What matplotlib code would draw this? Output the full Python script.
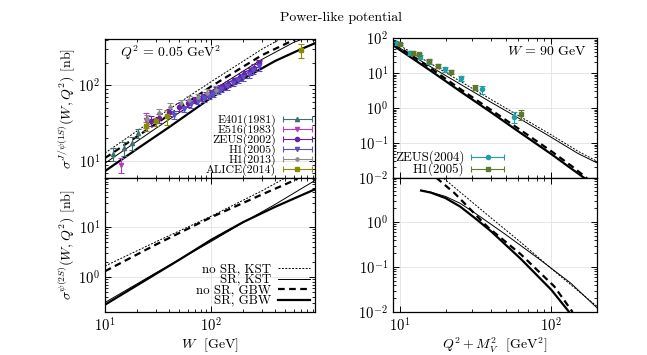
"""Power-like potential: J/psi(1S) and psi(2S) cross sections vs W and Q^2+M_V^2."""

import matplotlib
matplotlib.use("Agg")
import matplotlib.pyplot as plt
import numpy as np
from matplotlib.container import ErrorbarContainer
from matplotlib.legend_handler import HandlerErrorbar

plt.rcParams["font.family"] = "serif"
plt.rcParams["font.serif"] = ["cmr10"]
plt.rcParams["mathtext.fontset"] = "cm"
plt.rcParams["axes.formatter.use_mathtext"] = True
plt.rcParams["axes.unicode_minus"] = False

# ---------------- top left: J/psi(1S) vs W, Q^2 = 0.05 GeV^2 ----------------
w_thick_1s = [10, 20, 40, 100, 200, 400, 700, 950]
s_thick_1s = [7.4, 14.5, 28, 69, 122, 210, 300, 360]
w_thin_1s = [10, 30, 100, 300, 600, 800]
s_thin_1s = [9.4, 27, 84, 220, 370, 430]
w_dash_1s = [10, 30, 100, 300, 650]
s_dash_1s = [11, 31, 97, 250, 420]
w_dot_1s = [10, 30, 100, 300, 464]
s_dot_1s = [12.8, 37, 112, 300, 420]

e401_w = [12.0, 15.2, 17.9, 20.5]
e401_s = [12.6, 14.7, 17.6, 23.5]
e401_e = [2.5, 3.0, 3.5, 3.0]
e516_w = [14.0, 24.5]
e516_s = [9.0, 35]
e516_e = [2.0, 8.0]
zeus02_w = [27, 32, 40, 50, 60, 70, 80, 90, 100, 110, 120, 130, 145, 165, 185, 205, 230, 255, 285]
zeus02_s = [34, 37, 44, 52, 58, 64, 69, 74, 80, 86, 91, 96, 104, 116, 128, 140, 155, 172, 195]
zeus02_e = [5, 5, 5, 6, 6, 6, 7, 7, 8, 8, 9, 9, 10, 11, 12, 14, 16, 18, 22]
h1_05_w = [45, 55, 65, 75, 85, 95, 105, 115, 125, 140, 160, 180, 200, 225, 250, 285]
h1_05_s = [41, 49, 56, 62, 68, 73, 78, 84, 90, 98, 108, 118, 128, 143, 158, 182]
h1_05_e = [5, 5, 6, 6, 7, 7, 8, 8, 9, 10, 11, 12, 14, 16, 18, 25]
h1_13_w = [25, 32, 41, 52, 62, 75, 92, 110]
h1_13_s = [36, 43, 52, 58, 64, 70, 80, 88]
h1_13_e = [5, 6, 7, 7, 8, 8, 9, 10]
alice_w = [24.1, 30.0, 38.6, 706]
alice_s = [29, 33.5, 39, 290]
alice_e = [4, 4, 9, 58]

# ---------------- bottom left: psi(2S) vs W ----------------
w_thick_2s = [10, 20, 50, 100, 200, 400, 950]
s_thick_2s = [0.28, 0.68, 2.2, 5.5, 12.4, 25, 56]
w_thin_2s = [10, 30, 100, 200, 400, 950]
s_thin_2s = [0.31, 1.2, 5.1, 12.2, 28, 84]
w_dash_2s = [10, 30, 100, 300, 650]
s_dash_2s = [1.3, 4.4, 15.5, 44, 90]
w_dot_2s = [10, 30, 100, 300, 480]
s_dot_2s = [1.65, 5.0, 16.3, 52, 90]

# ---------------- top right: J/psi(1S) vs Q^2+M_V^2, W = 90 GeV ----------------
x_thick_q1 = [9.2, 16, 25, 40, 63, 100, 130, 166]
s_thick_q1 = [58, 11.5, 3.0, 0.75, 0.19, 0.048, 0.021, 0.0098]
x_thin_q1 = [9.2, 16, 25, 40, 63, 100, 150, 200]
s_thin_q1 = [64, 15, 4.8, 1.45, 0.47, 0.145, 0.05, 0.027]
x_dash_q1 = [9.2, 16, 25, 40, 63, 100, 140, 172]
s_dash_q1 = [68, 13.5, 3.5, 0.88, 0.23, 0.058, 0.02, 0.0098]
x_dot_q1 = [9.2, 16, 25, 40, 63, 100, 150, 200]
s_dot_q1 = [75, 18.5, 5.8, 1.75, 0.55, 0.17, 0.058, 0.03]

zeus04_x = [9.6, 11.6, 13.5, 15.6, 19.8, 25.5, 34.6, 56.6]
zeus04_s = [71, 36.6, 29, 21, 12.7, 7.1, 3.4, 0.565]
zeus04_e = [6, 5, 4, 3, 2.0, 1.2, 0.9, 0.2]
h1q_x = [10.0, 12.2, 13.4, 15.6, 17.9, 21.9, 31.5, 63.4]
h1q_s = [68, 38, 34, 21.5, 15.8, 10.9, 3.8, 0.66]
h1q_e = [6, 5, 4, 3, 2.0, 1.5, 0.6, 0.22]

# ---------------- bottom right: psi(2S) vs Q^2+M_V^2 ----------------
x_thick_q2 = [13.8, 16, 20, 25, 32, 40, 63, 100, 131]
s_thick_q2 = [5.0, 4.5, 3.4, 2.2, 1.15, 0.62, 0.15, 0.031, 0.01]
x_thin_q2 = [13.8, 16, 20, 25, 32, 49, 81, 134, 202]
s_thin_q2 = [5.0, 4.6, 3.7, 2.6, 1.5, 0.55, 0.16, 0.044, 0.012]
x_dash_q2 = [17.4, 22.9, 38, 63, 104.5, 138]
s_dash_q2 = [9.6, 4.4, 0.77, 0.19, 0.037, 0.01]
x_dot_q2 = [18.7, 38, 63, 104.5, 202]
s_dot_q2 = [10.4, 1.42, 0.35, 0.081, 0.013]

curve_labels = ["no SR, KST", "SR, KST", "no SR, GBW", "SR, GBW"]


def style_axis(ax):
    ax.set_xscale("log")
    ax.set_yscale("log")
    ax.tick_params(which="both", direction="in", top=True, right=True, labelsize=10.5)
    ax.tick_params(which="major", length=4, width=0.7)
    ax.tick_params(which="minor", length=2, width=0.6)
    ax.grid(True, which="major", color="#e3e3e3", lw=0.6)
    ax.set_axisbelow(True)
    for spine in ax.spines.values():
        spine.set_linewidth(0.9)


def draw_curves(ax, dot, thin, dash, thick):
    h1, = ax.plot(*dot, color="black", lw=0.7, ls=(0, (2, 1.5)))
    h2, = ax.plot(*thin, color="black", lw=0.7)
    h3, = ax.plot(*dash, color="black", lw=1.6, ls=(0, (3, 2)))
    h4, = ax.plot(*thick, color="black", lw=1.6)
    return [h1, h2, h3, h4]


def draw_data(ax, x, y, err, marker, color, label, ms=3):
    ax.errorbar(x, y, yerr=err, fmt=marker, color=color, ms=ms,
                elinewidth=0.8, capsize=2, capthick=0.8, zorder=3)
    # legend proxy with horizontal error bar, as in the original figure
    return ax.errorbar([np.nan], [np.nan], xerr=[1], fmt=marker, color=color,
                       ms=ms, elinewidth=0.8, capsize=2.5, capthick=0.8, label=label)


fig = plt.figure(figsize=(6.47, 3.55), dpi=100)
ax_tl = fig.add_axes([0.1623, 0.4986, 0.3246, 0.3915])
ax_bl = fig.add_axes([0.1623, 0.1211, 0.3246, 0.3775])
ax_tr = fig.add_axes([0.6074, 0.4986, 0.3153, 0.3944])
ax_br = fig.add_axes([0.6074, 0.1211, 0.3153, 0.3775])

for ax in (ax_tl, ax_bl, ax_tr, ax_br):
    style_axis(ax)

handler = {ErrorbarContainer: HandlerErrorbar(xerr_size=1.25)}

# top left
draw_curves(ax_tl, (w_dot_1s, s_dot_1s), (w_thin_1s, s_thin_1s),
            (w_dash_1s, s_dash_1s), (w_thick_1s, s_thick_1s))
handles = [
    draw_data(ax_tl, e401_w, e401_s, e401_e, "^", "#3f6f70", "E401(1981)"),
    draw_data(ax_tl, e516_w, e516_s, e516_e, "v", "#b83cb8", "E516(1983)"),
    draw_data(ax_tl, zeus02_w, zeus02_s, zeus02_e, "o", "#6a1fa8", "ZEUS(2002)"),
    draw_data(ax_tl, h1_05_w, h1_05_s, h1_05_e, "v", "#5b4fc4", "H1(2005)"),
    draw_data(ax_tl, h1_13_w, h1_13_s, h1_13_e, "D", "#8c8c8c", "H1(2013)", ms=2),
    draw_data(ax_tl, alice_w, alice_s, alice_e, "s", "#8b8b00", "ALICE(2014)"),
]
ax_tl.set_xlim(10, 950)
ax_tl.set_ylim(6, 409)
ax_tl.tick_params(labelbottom=False)
ax_tl.set_ylabel(r"$\sigma^{J/\psi(1S)}(W,Q^2)$ [nb]", fontsize=10, labelpad=1)
ax_tl.text(0.07, 0.9, r"$Q^2\,=\,0.05\ \mathrm{GeV}^2$", transform=ax_tl.transAxes,
           fontsize=10, va="center")
ax_tl.legend(handles=handles, handler_map=handler, loc="lower right", frameon=False,
             markerfirst=False, fontsize=8.5, handlelength=2.6, labelspacing=-0.12,
             handleheight=0.5, borderpad=0.1, borderaxespad=0.1, handletextpad=0.5)

# bottom left
lines = draw_curves(ax_bl, (w_dot_2s, s_dot_2s), (w_thin_2s, s_thin_2s),
                    (w_dash_2s, s_dash_2s), (w_thick_2s, s_thick_2s))
ax_bl.set_xlim(10, 950)
ax_bl.set_ylim(0.2, 94)
ax_bl.set_xlabel(r"$W$  [GeV]", fontsize=10, labelpad=1)
ax_bl.set_ylabel(r"$\sigma^{\psi(2S)}(W,Q^2)$ [nb]", fontsize=10, labelpad=1)
ax_bl.legend(lines, curve_labels, loc="lower right", frameon=False, markerfirst=False,
             fontsize=9.3, handlelength=2.5, labelspacing=-0.12, handleheight=0.5,
             borderpad=0.1, borderaxespad=0.3, handletextpad=0.5)

# top right
draw_curves(ax_tr, (x_dot_q1, s_dot_q1), (x_thin_q1, s_thin_q1),
            (x_dash_q1, s_dash_q1), (x_thick_q1, s_thick_q1))
handles_r = [
    draw_data(ax_tr, zeus04_x, zeus04_s, zeus04_e, "o", "#1fa0a8", "ZEUS(2004)"),
    draw_data(ax_tr, h1q_x, h1q_s, h1q_e, "s", "#5c7a2e", "H1(2005)"),
]
ax_tr.set_xlim(9, 200)
ax_tr.set_ylim(0.01, 100)
ax_tr.tick_params(labelbottom=False)
ax_tr.text(0.95, 0.9, r"$W\,=\,90\ \mathrm{GeV}$", transform=ax_tr.transAxes,
           fontsize=10, va="center", ha="right")
ax_tr.legend(handles=handles_r, handler_map=handler, loc="lower left", frameon=False,
             markerfirst=False, fontsize=9.3, handlelength=2.6, labelspacing=-0.15,
             handleheight=0.5, borderpad=0.1, borderaxespad=0.05, handletextpad=0.5)

# bottom right
draw_curves(ax_br, (x_dot_q2, s_dot_q2), (x_thin_q2, s_thin_q2),
            (x_dash_q2, s_dash_q2), (x_thick_q2, s_thick_q2))
ax_br.set_xlim(9, 200)
ax_br.set_ylim(0.01, 9.5)
ax_br.set_xlabel(r"$Q^2+M_V^2$  [GeV$^2$]", fontsize=10, labelpad=0.5)

fig.text(0.527, 0.949, "Power-like potential", ha="center", va="center", fontsize=10)

fig.savefig("out.png", dpi=100)
